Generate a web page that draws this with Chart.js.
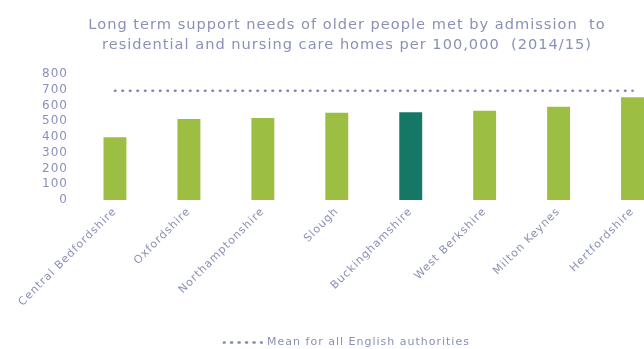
<!DOCTYPE html>
<html>
<head>
<meta charset="utf-8">
<script src="https://cdn.jsdelivr.net/npm/chart.js@4"></script>
<style>
  html, body { margin: 0; padding: 0; background: #ffffff; overflow: hidden; }
  #wrap { width: 694px; height: 349px; }
</style>
</head>
<body>
<div id="wrap"><canvas id="chart" width="694" height="349"></canvas></div>
<script>
// Local authorities compared, ordered by rate
const categories = [
  'Central Bedfordshire', 'Oxfordshire', 'Northamptonshire', 'Slough',
  'Buckinghamshire', 'West Berkshire', 'Milton Keynes', 'Hertfordshire'
];
// Admissions to residential and nursing care per 100,000 older people
const admissionRates = [398, 514, 521, 554, 557, 567, 592, 652];
// Mean for all English authorities, repeated across every category
const englishMean = [694, 694, 694, 694, 694, 694, 694, 694];
// Y axis range and step
const yTicks = { min: 0, max: 800, step: 100 };

const highlighted = 'Buckinghamshire';
const GREEN = '#9CBE42';
const TEAL = '#157866';
const TEXT = '#8A91B6';
const DOTS = '#7F89B6';
const FONT = "'DejaVu Sans', sans-serif";

// Wide lettering for the title, axes and legend (measured and drawn); plain for the marks
const letterSpacing = {
  id: 'letterSpacing',
  beforeUpdate(chart) { chart.ctx.letterSpacing = '1px'; },
  beforeDraw(chart) { chart.ctx.letterSpacing = '1px'; },
  beforeDatasetsDraw(chart) { chart.ctx.letterSpacing = '0px'; }
};

new Chart(document.getElementById('chart'), {
  type: 'bar',
  data: {
    labels: categories,
    datasets: [
      {
        type: 'line',
        label: 'Mean for all English authorities',
        data: englishMean,
        borderColor: DOTS,
        backgroundColor: 'rgba(0,0,0,0)',
        borderWidth: 2.6,
        borderDash: [0.5, 7],
        borderCapStyle: 'round',
        pointRadius: 0,
        fill: false,
        order: 0
      },
      {
        label: 'Admissions',
        data: admissionRates,
        backgroundColor: ctx => categories[ctx.dataIndex] === highlighted ? TEAL : GREEN,
        borderWidth: 0,
        categoryPercentage: 1,
        barPercentage: 0.31,
        order: 1
      }
    ]
  },
  plugins: [letterSpacing],
  options: {
    responsive: false,
    animation: false,
    devicePixelRatio: 1,
    layout: { padding: { left: 24.5, right: 24.5, top: 0, bottom: -9 } },
    plugins: {
      title: {
        display: true,
        text: [
          'Long term support needs of older people met by admission  to',
          'residential and nursing care homes per 100,000  (2014/15)'
        ],
        color: TEXT,
        font: { family: FONT, size: 14.6, weight: 'normal', lineHeight: 1.37 },
        padding: { top: 15, bottom: 19 }
      },
      legend: {
        position: 'bottom',
        labels: {
          filter: item => item.datasetIndex === 0,
          color: TEXT,
          font: { family: FONT, size: 11 },
          boxWidth: 37.5,
          boxHeight: 0.001,
          padding: 4
        }
      },
      tooltip: { enabled: false }
    },
    scales: {
      x: {
        grid: { display: false, drawTicks: false, tickLength: 0 },
        border: { display: false },
        ticks: {
          color: TEXT,
          font: { family: FONT, size: 11 },
          minRotation: 45,
          maxRotation: 45,
          padding: 5,
          autoSkip: false
        },
        afterFit: scale => {
          scale.height = 133;
          scale.paddingLeft = 0;
          scale.paddingRight = 0;
        }
      },
      y: {
        min: yTicks.min,
        max: yTicks.max,
        grid: { display: false, drawTicks: false, tickLength: 0 },
        border: { display: false },
        ticks: {
          stepSize: yTicks.step,
          autoSkip: false,
          color: TEXT,
          font: { family: FONT, size: 12 },
          padding: 10
        },
        afterFit: scale => { scale.width = 53.5; }
      }
    }
  }
});
</script>
</body>
</html>
